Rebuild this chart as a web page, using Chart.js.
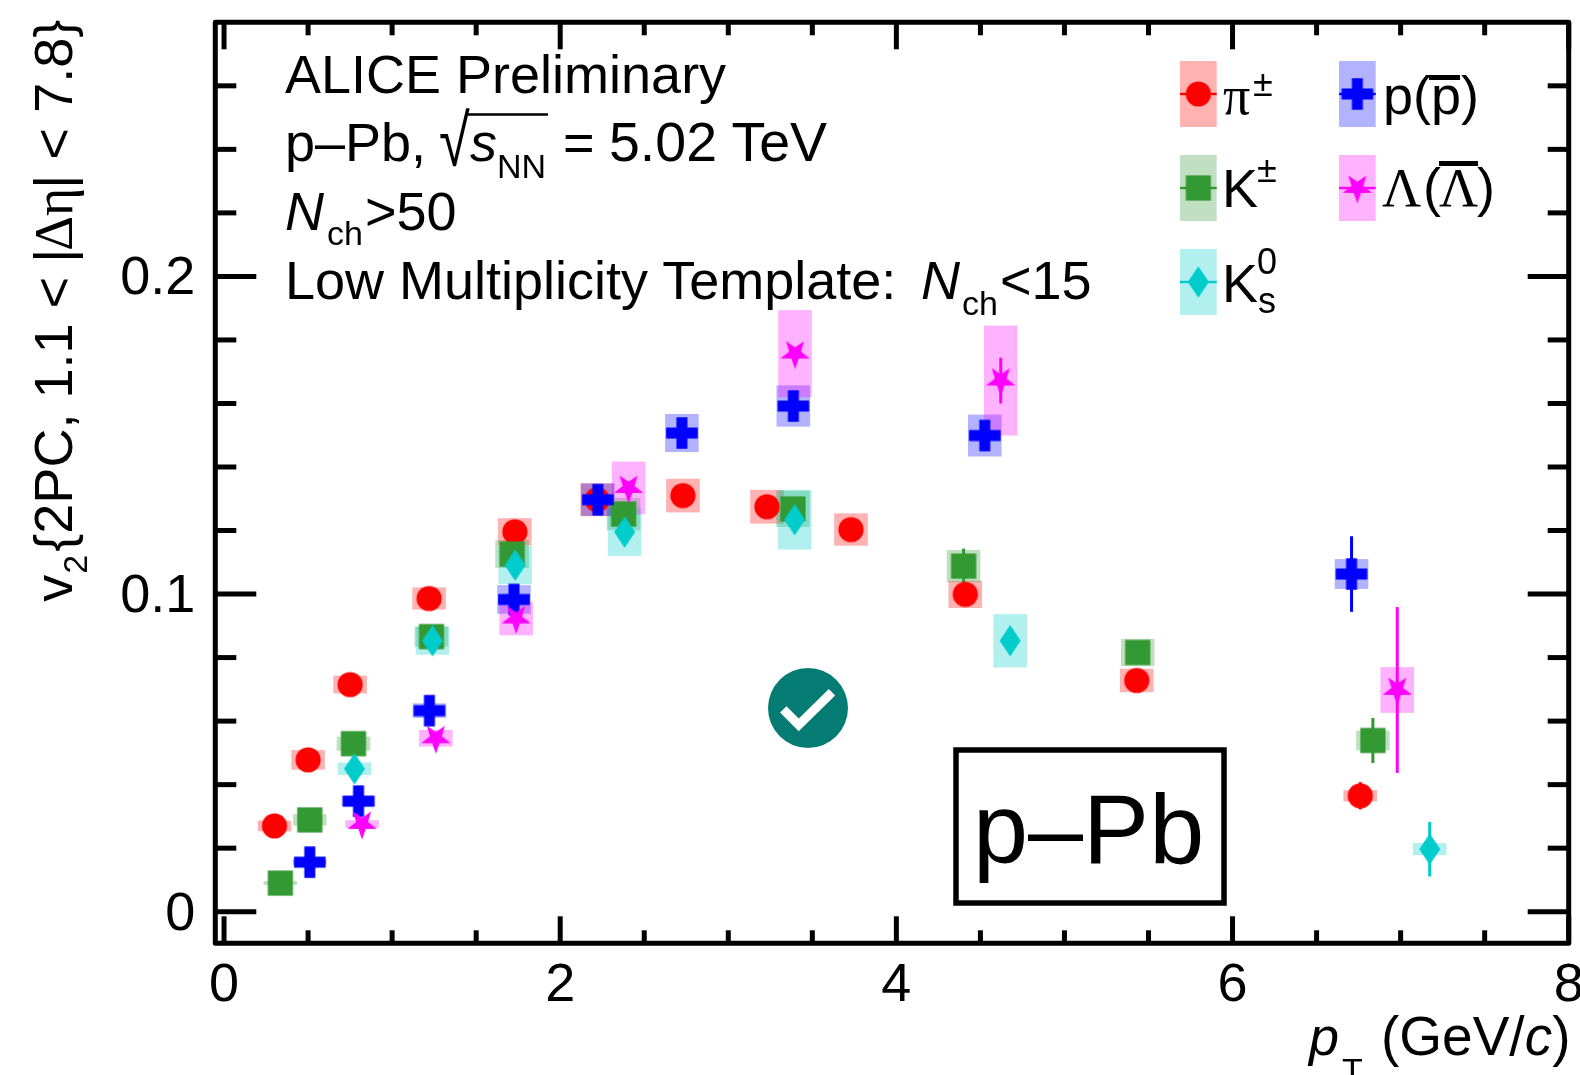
<!DOCTYPE html>
<html>
<head>
<meta charset="utf-8">
<title>v2 p-Pb</title>
<script src="https://cdn.jsdelivr.net/npm/chart.js@4"></script>
<style>
  html,body{margin:0;padding:0;background:#fff;overflow:hidden}
  #wrap{position:relative;width:1580px;height:1075px;overflow:hidden}
  canvas{position:absolute;left:0;top:0}
  svg{position:absolute;left:0;top:0}
  svg text{font-family:"Liberation Sans",Arial,sans-serif;font-size:54px;fill:#000}
  svg text.sub{font-size:34px}
  svg text.sup{font-size:36px}
  svg text.it{font-style:italic}
  svg text.serif{font-family:"Liberation Serif",serif}
</style>
</head>
<body>
<div id="wrap">
<canvas id="c" width="1580" height="1075"></canvas>
<svg width="1580" height="1075" viewBox="0 0 1580 1075">
  <!-- header -->
  <text x="285" y="92.7">ALICE Preliminary</text>
  <text x="285" y="160.7">p–Pb,</text>
  <text x="439" y="166" transform="translate(439 166) scale(1 1.3) translate(-439 -166)" style="font-size:56px">√</text>
  <line x1="467" y1="114.5" x2="548" y2="114.5" stroke="#000" stroke-width="2.5"/>
  <text class="it" x="470" y="160.7">s</text>
  <text class="sub" x="497" y="178">NN</text>
  <text x="563" y="160.7">=</text>
  <text x="609" y="160.7" style="font-size:55.5px">5.02 TeV</text>
  <text class="it" x="285" y="230">N</text>
  <text class="sub" x="327" y="245">ch</text>
  <text x="365" y="230">&gt;50</text>
  <text x="285" y="299.3">Low Multiplicity Template:</text>
  <text class="it" x="921" y="299.3">N</text>
  <text class="sub" x="962" y="315">ch</text>
  <text x="1000" y="299.3">&lt;15</text>

  <!-- legend labels -->
  <text class="serif" x="1223" y="114">π</text>
  <text class="sup" x="1253" y="96">±</text>
  <text x="1222" y="206.7">K</text>
  <text class="sup" x="1257" y="181.7">±</text>
  <text x="1222" y="301.7">K</text>
  <text class="sup" x="1257" y="274.3">0</text>
  <text class="sup" x="1258" y="313">s</text>
  <text x="1383" y="114">p(p)</text>
  <line x1="1429" y1="77.5" x2="1460" y2="77.5" stroke="#000" stroke-width="5"/>
  <text class="serif" x="1382" y="205.7">Λ</text>
  <text x="1423" y="205.7">(</text>
  <text class="serif" x="1439" y="205.7">Λ</text>
  <text x="1477" y="205.7">)</text>
  <line x1="1439" y1="163.5" x2="1478" y2="163.5" stroke="#000" stroke-width="5"/>

  <!-- p-Pb box -->
  <rect x="956" y="750" width="268" height="153" fill="none" stroke="#000" stroke-width="5.5"/>
  <text x="973" y="862.7" style="font-size:99px">p–Pb</text>

  <!-- badge -->
  <circle cx="808" cy="708" r="40" fill="#047c74"/>
  <polyline points="783.3,709.3 798.7,725 832,692.3" fill="none" stroke="#fff" stroke-width="9"/>

  <!-- axis titles -->
  <g transform="translate(72 601.7) rotate(-90)">
    <text x="0" y="0">v</text>
    <text class="sub" x="28" y="15">2</text>
    <text x="50" y="0">{2PC, 1.1 &lt;</text>
    <text x="339" y="0">|</text>
    <text class="serif" x="351" y="0">Δη</text>
    <text x="413" y="0">|</text>
    <text x="442" y="0">&lt;</text>
    <text x="489" y="0">7.8}</text>
  </g>
  <text class="it" x="1309" y="1055">p</text>
  <text class="sub" x="1342" y="1082">T</text>
  <text x="1381" y="1055" style="font-size:55px">(GeV/<tspan font-style="italic">c</tspan>)</text>
</svg>
</div>
<script>
const xTicks=[0,2,4,6,8];
const yTicks=[0,0.1,0.2];
const xMinorTicks=[0.5,1,1.5,2.5,3,3.5,4.5,5,5.5,6.5,7,7.5];
const yMinorTicks=[0.02,0.04,0.06,0.08,0.12,0.14,0.16,0.18,0.22,0.24,0.26];

// pi+-
const piPt=[0.3,0.5,0.75,1.22,1.73,2.22,2.73,3.23,3.73,4.41,5.43,6.76];
const piV2=[0.027,0.0478,0.0715,0.0986,0.1196,0.1297,0.131,0.1275,0.1203,0.0999,0.0728,0.0365];
const piStat=[0.0005,0.0005,0.0005,0.0005,0.0005,0.0005,0.0005,0.0005,0.0005,0.001,0.002,0.0043];
const piSys=[0.0017,0.0031,0.0028,0.0035,0.0043,0.0052,0.0053,0.0053,0.0051,0.0043,0.0037,0.0018];
// K+-
const kPt=[0.335,0.51,0.77,1.234,1.714,2.377,3.385,4.4,5.436,6.835];
const kV2=[0.009,0.0289,0.0529,0.0866,0.1126,0.1252,0.1268,0.1088,0.0816,0.0539];
const kStat=[0.0005,0.0005,0.0005,0.0005,0.001,0.001,0.001,0.0055,0.002,0.0071];
const kSys=[0.0006,0.0018,0.0022,0.0032,0.0044,0.0051,0.0057,0.0051,0.0043,0.0031];
// K0s
const k0Pt=[0.776,1.24,1.732,2.383,3.395,4.677,7.173];
const k0V2=[0.045,0.0853,0.1091,0.1195,0.1234,0.0853,0.0197];
const k0Stat=[0.001,0.001,0.001,0.001,0.001,0.002,0.0086];
const k0Sys=[0.002,0.0044,0.006,0.0075,0.0094,0.0084,0.0019];
// p
const pPt=[0.51,0.8,1.222,1.725,2.224,2.724,3.387,4.526,6.708];
const pV2=[0.0156,0.0348,0.0633,0.0983,0.1297,0.1507,0.1592,0.1499,0.1063];
const pStat=[0.0005,0.0005,0.0005,0.001,0.001,0.001,0.002,0.002,0.0119];
const pSys=[0.0008,0.0017,0.0023,0.0045,0.0051,0.006,0.0065,0.0066,0.0047];
// Lambda
const lamPt=[0.821,1.26,1.738,2.407,3.397,4.621,6.98];
const lamV2=[0.0276,0.0546,0.0923,0.1334,0.1757,0.1672,0.0698];
const lamStat=[0.001,0.001,0.001,0.002,0.002,0.0072,0.0261];
const lamSys=[0.0012,0.0026,0.0053,0.0083,0.0137,0.0173,0.0072];

const colors=['#ff0000','#339933','#00cccc','#0000ff','#ff00ff'];
const boxColors=['rgba(255,0,0,.3)','rgba(51,153,51,.3)','rgba(0,204,204,.3)','rgba(0,0,255,.3)','rgba(255,0,255,.3)'];
const names=['pi','K','K0s','p','Lambda'];
const allPt=[piPt,kPt,k0Pt,pPt,lamPt];
const allV2=[piV2,kV2,k0V2,pV2,lamV2];
const allStat=[piStat,kStat,k0Stat,pStat,lamStat];
const allSys=[piSys,kSys,k0Sys,pSys,lamSys];

const boxHalfWidth=0.1;

function sprite(draw,color){
  let cv=document.createElement('canvas');
  cv.width=44;cv.height=44;
  let g=cv.getContext('2d');
  g.translate(22,22);
  g.fillStyle=color;
  g.beginPath();
  draw(g);
  g.fill();
  return cv;
}
const shapes=[
  g=>{g.arc(0,0,12.6,0,Math.PI*2)},
  g=>{g.rect(-12.6,-12.6,25.2,25.2)},
  g=>{g.moveTo(0,-15.8);g.lineTo(10.5,0);g.lineTo(0,15.8);g.lineTo(-10.5,0);g.closePath()},
  g=>{
    g.moveTo(-5.5,-15.8);g.lineTo(5.5,-15.8);g.lineTo(5.5,-5.5);g.lineTo(15.8,-5.5);g.lineTo(15.8,5.5);g.lineTo(5.5,5.5);
    g.lineTo(5.5,15.8);g.lineTo(-5.5,15.8);g.lineTo(-5.5,5.5);g.lineTo(-15.8,5.5);g.lineTo(-15.8,-5.5);g.lineTo(-5.5,-5.5);g.closePath()
  },
  g=>{
    // star pointing down
    for(let i=0;i<10;i++){
      let r=i%2==0?15.4:6.2;
      let a=Math.PI/2+i*Math.PI/5;
      if(i==0)g.moveTo(r*Math.cos(a),r*Math.sin(a));
      else g.lineTo(r*Math.cos(a),r*Math.sin(a));
    }
    g.closePath();
  }
];
const sprites=shapes.map((s,i)=>sprite(s,colors[i]));

const datasets=names.map((n,i)=>({
  label:n,
  data:allPt[i].map((x,j)=>({x:x,y:allV2[i][j]})),
  pointStyle:sprites[i],
  pointRadius:15,
  showLine:false,
  order:names.length-i
}));

// legend placement in page pixels
const legendBoxes=[[1180,61,36.7,66],[1180,155,36.7,66],[1180,249,36.7,66],[1339,61,36.7,66],[1339,155,36.7,66]];

const errorPlugin={
  id:'errorPlugin',
  beforeDatasetsDraw(chart){
    const {ctx,scales:{x,y}}=chart;
    ctx.save();
    // systematics boxes first
    names.forEach((n,i)=>{
      ctx.fillStyle=boxColors[i];
      allPt[i].forEach((pt,j)=>{
        let l=x.getPixelForValue(pt-boxHalfWidth),r=x.getPixelForValue(pt+boxHalfWidth);
        let t=y.getPixelForValue(allV2[i][j]+allSys[i][j]),b=y.getPixelForValue(allV2[i][j]-allSys[i][j]);
        ctx.fillRect(l,t,r-l,b-t);
      });
    });
    // stat bars
    ctx.lineWidth=3;
    names.forEach((n,i)=>{
      ctx.strokeStyle=colors[i];
      allPt[i].forEach((pt,j)=>{
        let px=x.getPixelForValue(pt);
        ctx.beginPath();
        ctx.moveTo(px,y.getPixelForValue(allV2[i][j]+allStat[i][j]));
        ctx.lineTo(px,y.getPixelForValue(allV2[i][j]-allStat[i][j]));
        ctx.stroke();
      });
    });
    ctx.restore();
  }
};

const framePlugin={
  id:'framePlugin',
  afterDatasetsDraw(chart){
    const {ctx,chartArea:a,scales:{x,y}}=chart;
    ctx.save();
    ctx.strokeStyle='#000';
    ctx.lineWidth=5;
    ctx.lineJoin='round';
    ctx.strokeRect(a.left,a.top,a.right-a.left,a.bottom-a.top);
    function vTicks(vals,len){
      vals.forEach(v=>{
        let px=x.getPixelForValue(v);
        ctx.beginPath();ctx.moveTo(px,a.bottom);ctx.lineTo(px,a.bottom-len);ctx.stroke();
        ctx.beginPath();ctx.moveTo(px,a.top);ctx.lineTo(px,a.top+len);ctx.stroke();
      });
    }
    function hTicks(vals,len){
      vals.forEach(v=>{
        let py=y.getPixelForValue(v);
        ctx.beginPath();ctx.moveTo(a.left,py);ctx.lineTo(a.left+len,py);ctx.stroke();
        ctx.beginPath();ctx.moveTo(a.right,py);ctx.lineTo(a.right-len,py);ctx.stroke();
      });
    }
    vTicks(xTicks,27);
    vTicks(xMinorTicks,13);
    hTicks(yTicks,41);
    hTicks(yMinorTicks,21);
    ctx.restore();
    // legend
    ctx.save();
    names.forEach((n,i)=>{
      let b=legendBoxes[i];
      ctx.fillStyle=boxColors[i];
      ctx.fillRect(b[0],b[1],b[2],b[3]);
      ctx.fillStyle=colors[i];
      ctx.fillRect(b[0],b[1]+b[3]/2-1.2,b[2],2.4);
      ctx.drawImage(sprites[i],b[0]+b[2]/2-22,b[1]+b[3]/2-22);
    });
    ctx.restore();
  }
};

new Chart(document.getElementById('c'),{
  type:'scatter',
  data:{datasets:datasets},
  plugins:[errorPlugin,framePlugin],
  options:{
    responsive:false,
    animation:false,
    layout:{autoPadding:false,padding:{left:0,top:22.3,right:11.3,bottom:0}},
    plugins:{legend:{display:false},tooltip:{enabled:false}},
    scales:{
      x:{
        type:'linear',min:-0.052,max:8,
        grid:{display:false},border:{display:false},
        afterBuildTicks(s){s.ticks=xTicks.map(v=>({value:v}))},
        afterFit(s){s.height=131.7;s.paddingLeft=0;s.paddingRight=0},
        ticks:{autoSkip:false,maxRotation:0,padding:2,color:'#000',font:{family:'"Liberation Sans"',size:54},callback:v=>String(v)}
      },
      y:{
        type:'linear',min:-0.00995,max:0.28,
        grid:{display:false},border:{display:false},
        afterBuildTicks(s){s.ticks=yTicks.map(v=>({value:v}))},
        afterFit(s){s.width=215.3;s.paddingTop=0;s.paddingBottom=0},
        ticks:{autoSkip:false,padding:12,labelOffset:3,color:'#000',font:{family:'"Liberation Sans"',size:54},callback:v=>String(v)}
      }
    }
  }
});
</script>
</body>
</html>
